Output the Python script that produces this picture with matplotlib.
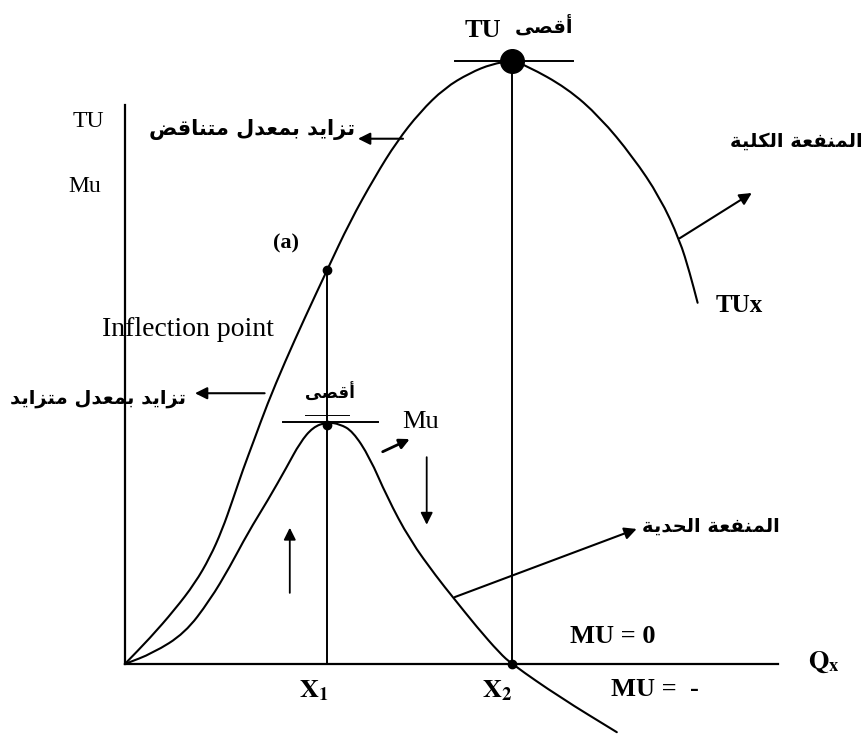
#!/usr/bin/env python3
"""
Total utility (TU) and marginal utility (MU) diagram with Arabic labels.
"""

import matplotlib
matplotlib.use('Agg')
import matplotlib.pyplot as plt
from matplotlib.patches import PathPatch
from matplotlib.path import Path

# total utility curve: quantity and utility
tu_q = [0.0, 0.52, 1.03, 1.45, 1.76, 2.01, 2.23, 2.44, 2.67, 2.94, 3.31,
        3.72, 4.18, 4.65, 5.17, 5.62, 6.10, 6.61, 7.13, 7.59, 8.0, 8.31,
        9.14, 9.82, 10.50, 11.06, 11.47, 11.68, 11.84]
tu_u = [0.0, 4.3, 9.0, 13.4, 17.7, 22.2, 27.2, 32.2, 37.1, 43.0, 50.1,
        57.4, 65.3, 73.3, 80.8, 86.6, 91.5, 95.5, 98.0, 99.5, 100.0, 99.2,
        95.5, 90.7, 84.1, 77.4, 70.3, 64.8, 59.9]

# marginal utility curve
mu_q = [0.0, 0.58, 1.24, 1.76, 2.17, 2.54, 2.96, 3.35, 3.62, 3.89, 4.18,
        4.44, 4.71, 5.06, 5.42, 5.89, 6.45, 6.78, 7.28, 7.75, 8.0, 8.99,
        10.17]
mu_u = [0.0, 1.8, 5.1, 10.6, 16.1, 21.7, 27.2, 32.7, 36.7, 39.3, 40.1,
        39.8, 38.6, 34.3, 27.7, 20.6, 14.4, 11.1, 6.1, 1.8, 0.0, -5.5,
        -11.3]

# key quantities
x1 = 4.18          # inflection point of TU / max of MU
x2 = 8.0           # max of TU, MU = 0
tu_inflection = 65.3
tu_max = 100.0
mu_max = 40.1

labels = {
    'tu_max': 'أقصى',
    'inc_dec': 'تزايد بمعدل متناقض',
    'inc_inc': 'تزايد بمعدل متزايد',
    'total': 'المنفعة الكلية',
    'marginal': 'المنفعة الحدية',
    'mu_max': 'أقصى',
}

# Arabic presentation forms (isolated code point; +1 final, +2 initial, +3 medial)
DUAL = {'ب': 0xFE8F, 'ت': 0xFE95, 'ح': 0xFEA1, 'ص': 0xFEB9, 'ض': 0xFEBD,
        'ع': 0xFEC9, 'ف': 0xFED1, 'ق': 0xFED5, 'ك': 0xFED9, 'ل': 0xFEDD,
        'م': 0xFEE1, 'ن': 0xFEE5, 'ي': 0xFEF1}
RIGHT = {'ا': 0xFE8D, 'أ': 0xFE83, 'د': 0xFEA9, 'ز': 0xFEAF, 'ة': 0xFE93,
         'ى': 0xFEEF}


def shape(text):
    """
    Joins Arabic letters and puts them in visual (left to right) order.
    """
    out = []
    for i, ch in enumerate(text):
        prev = text[i - 1] if i > 0 else ''
        nxt = text[i + 1] if i + 1 < len(text) else ''
        if ch in DUAL:
            joins_prev = prev in DUAL
            joins_next = nxt in DUAL or nxt in RIGHT
            if joins_prev and joins_next:
                out.append(chr(DUAL[ch] + 3))
            elif joins_prev:
                out.append(chr(DUAL[ch] + 1))
            elif joins_next:
                out.append(chr(DUAL[ch] + 2))
            else:
                out.append(chr(DUAL[ch]))
        elif ch in RIGHT:
            out.append(chr(RIGHT[ch] + (1 if prev in DUAL else 0)))
        else:
            out.append(ch)
    return ''.join(reversed(out))


def smooth_curve(ax, xs, ys, lw=1.5):
    """
    Draws a line through the points, rounding the corners with
    quadratic Bezier segments.
    """
    pts = list(zip(xs, ys))
    verts = [pts[0]]
    codes = [Path.MOVETO]
    mid = ((pts[0][0] + pts[1][0]) / 2, (pts[0][1] + pts[1][1]) / 2)
    verts.append(mid)
    codes.append(Path.LINETO)
    for i in range(1, len(pts) - 1):
        nxt_mid = ((pts[i][0] + pts[i + 1][0]) / 2,
                   (pts[i][1] + pts[i + 1][1]) / 2)
        verts += [pts[i], nxt_mid]
        codes += [Path.CURVE3, Path.CURVE3]
    verts.append(pts[-1])
    codes.append(Path.LINETO)
    ax.add_patch(PathPatch(Path(verts, codes), fill=False, color='black',
                           lw=lw, capstyle='round', joinstyle='round'))


def arrow(ax, start, end, lw=1.5, scale=18):
    ax.annotate('', xy=end, xytext=start,
                arrowprops=dict(arrowstyle='-|>', color='black', lw=lw,
                                mutation_scale=scale, shrinkA=0, shrinkB=0))


def utility_plot():
    plt.rcParams['mathtext.fontset'] = 'stix'
    serif = 'Liberation Serif'
    arabic = {'family': 'DejaVu Sans', 'fontweight': 'bold'}

    figure = plt.figure(figsize=(8.65, 7.34), dpi=100)
    ax = figure.add_axes([0, 0, 1, 1])
    ax.set_xlim(-2.58, 15.30)
    ax.set_ylim(-11.6, 110.1)
    ax.axis('off')

    # axes
    ax.plot([0, 0], [0, 92.7], color='black', lw=1.6)
    ax.plot([0, 13.5], [0, 0], color='black', lw=1.6)

    # curves
    smooth_curve(ax, tu_q, tu_u)
    smooth_curve(ax, mu_q, mu_u)

    # guide lines
    ax.plot([x1, x1], [0, tu_inflection], color='black', lw=1.4)
    ax.plot([x2, x2], [0, tu_max], color='black', lw=1.4)
    ax.plot([x2 - 1.18, x2 + 1.26], [tu_max, tu_max], color='black', lw=1.4)
    ax.plot([x1 - 0.91, x1 + 1.05], [mu_max, mu_max], color='black', lw=1.4)
    ax.plot([x1 - 0.45, x1 + 0.45], [mu_max + 1.2, mu_max + 1.2],
            color='black', lw=0.7)

    # points
    ax.plot([x2], [tu_max], 'o', color='black', ms=17)
    ax.plot([x1], [tu_inflection], 'o', color='black', ms=6)
    ax.plot([x1], [mu_max - 0.4], 'o', color='black', ms=6)
    ax.plot([x2], [0], 'o', color='black', ms=6)

    # axis labels
    ax.text(-0.76, 89.9, 'TU', family=serif, fontsize=17,
            ha='center', va='center')
    ax.text(-0.83, 79.1, 'Mu', family=serif, fontsize=17,
            ha='center', va='center')
    ax.text(14.45, 0.3, r'$\mathbf{Q_x}$', fontsize=19,
            ha='center', va='center')
    ax.text(3.91, -4.3, r'$\mathbf{X_1}$', fontsize=19,
            ha='center', va='center')
    ax.text(7.69, -4.3, r'$\mathbf{X_2}$', fontsize=19,
            ha='center', va='center')

    # top: TU maximum
    ax.text(7.40, 105.1, 'TU', family=serif, fontweight='bold', fontsize=19,
            ha='center', va='center')
    ax.text(8.66, 105.8, shape(labels['tu_max']), fontsize=14,
            ha='center', va='center', **arabic)

    ax.text(2.63, 88.6, shape(labels['inc_dec']), fontsize=15,
            ha='center', va='center', **arabic)
    arrow(ax, (5.75, 87.1), (4.82, 87.1))

    ax.text(13.87, 86.7, shape(labels['total']), fontsize=14,
            ha='center', va='center', **arabic)
    arrow(ax, (11.47, 70.6), (12.96, 78.1))

    ax.text(3.33, 69.7, '(a)', family=serif, fontweight='bold', fontsize=16,
            ha='center', va='center')
    ax.text(1.30, 55.4, 'Inflection point', family=serif, fontsize=20,
            ha='center', va='center')
    ax.text(12.71, 59.5, 'TUx', family=serif, fontweight='bold',
            fontsize=18, ha='center', va='center')

    ax.text(-0.56, 44.1, shape(labels['inc_inc']), fontsize=14,
            ha='center', va='center', **arabic)
    arrow(ax, (2.89, 44.9), (1.45, 44.9))

    ax.text(4.24, 44.9, shape(labels['mu_max']), fontsize=12,
            ha='center', va='center', **arabic)

    ax.text(6.12, 40.1, 'Mu', family=serif, fontsize=19,
            ha='center', va='center')
    arrow(ax, (5.33, 35.2), (5.89, 37.3), lw=2, scale=15)
    arrow(ax, (6.24, 34.3), (6.24, 23.1), lw=1.3)
    arrow(ax, (3.41, 11.8), (3.41, 22.6), lw=1.3)

    ax.text(12.11, 22.9, shape(labels['marginal']), fontsize=14,
            ha='center', va='center', **arabic)
    arrow(ax, (6.82, 11.1), (10.58, 22.4))

    ax.text(10.09, 4.5, 'MU = 0', family=serif, fontweight='bold',
            fontsize=19, ha='center', va='center')
    ax.text(10.96, -4.3, 'MU =  -', family=serif, fontweight='bold',
            fontsize=19, ha='center', va='center')

    figure.savefig('out.png', dpi=100)
    plt.close(figure)


def main():
    utility_plot()


if __name__ == '__main__':
    main()
